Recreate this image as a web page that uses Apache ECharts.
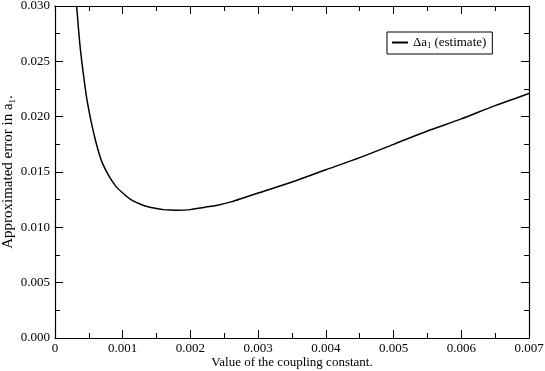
<!DOCTYPE html>
<html>
<head>
<meta charset="utf-8">
<script src="https://cdn.jsdelivr.net/npm/echarts@6/dist/echarts.min.js"></script>
<style>
  html, body { margin: 0; padding: 0; background: #fff; }
  #chart { width: 545px; height: 371px; }
</style>
</head>
<body>
<div id="chart"></div>
<script>
// coupling constant values and estimated error
const couplingX = [0.00032, 0.00035, 0.00038, 0.00042, 0.00046, 0.0005, 0.00055, 0.0006, 0.00065, 0.0007,
  0.0008, 0.0009, 0.001, 0.0011, 0.0012, 0.0013, 0.0014, 0.0015, 0.0016, 0.0017,
  0.0018, 0.002, 0.0022, 0.0024, 0.0026, 0.0028, 0.003, 0.0035, 0.004, 0.0045,
  0.005, 0.0055, 0.006, 0.0065, 0.007];
const errorY = [0.0300, 0.0277, 0.0258, 0.0238, 0.0220, 0.0206, 0.0191, 0.0178, 0.0167, 0.0158,
  0.0146, 0.0137, 0.0131, 0.0126, 0.01225, 0.0120, 0.01182, 0.0117, 0.0116, 0.01156,
  0.01155, 0.0116, 0.0118, 0.0120, 0.0123, 0.0127, 0.0131, 0.0141, 0.0152, 0.0163,
  0.0175, 0.0187, 0.0198, 0.0210, 0.0221];
const xTicks = ['0', '0.001', '0.002', '0.003', '0.004', '0.005', '0.006', '0.007'];
const yTicks = ['0.000', '0.005', '0.010', '0.015', '0.020', '0.025', '0.030'];

const font = '"Liberation Serif", "DejaVu Serif", serif';
const axisLine = { show: true, onZero: false, lineStyle: { color: '#000', width: 1.2 } };
const legendRich = {
  a: { fontFamily: font, fontSize: 13, color: '#000' },
  s: { fontFamily: font, fontSize: 8, color: '#000', padding: [7, 0, 0, 0] },
};
const nameRich = {
  a: { fontFamily: font, fontSize: 15, color: '#000' },
  s: { fontFamily: font, fontSize: 9, color: '#000', padding: [8, 0, 0, 0] },
};

const chart = echarts.init(document.getElementById('chart'));

const baseX = {
  type: 'value', min: 0, max: 0.007, interval: 0.001,
  axisLine: axisLine,
  axisTick: { inside: true, length: 8, lineStyle: { color: '#000' } },
  minorTick: { show: true, splitNumber: 2, length: 5, lineStyle: { color: '#000' } },
  splitLine: { show: false },
};
const baseY = {
  type: 'value', min: 0, max: 0.03, interval: 0.005,
  axisLine: axisLine,
  axisTick: { inside: true, length: 8, lineStyle: { color: '#000' } },
  minorTick: { show: true, splitNumber: 2, length: 5, lineStyle: { color: '#000' } },
  splitLine: { show: false },
};

chart.setOption({
  animation: false,
  backgroundColor: '#fff',
  grid: { left: 55, right: 16, top: 6, bottom: 33, containLabel: false, outerBoundsMode: 'none' },
  legend: {
    left: 387, top: 32,
    padding: [4, 6, 4, 5],
    itemGap: 5,
    itemWidth: 16, itemHeight: 2,
    borderColor: '#000', borderWidth: 1,
    backgroundColor: '#fff',
    icon: 'rect',
    data: ['est'],
    formatter: () => '{a|Δa}{s|1}{a| (estimate)}',
    textStyle: { rich: legendRich },
  },
  xAxis: [
    Object.assign({}, baseX, {
      position: 'bottom',
      axisLabel: {
        fontFamily: font, fontSize: 13, color: '#000', margin: 4,
        formatter: (v) => xTicks[Math.round(v / 0.001)],
      },
      name: 'Value of the coupling constant.',
      nameLocation: 'middle', nameGap: 18, nameMoveOverlap: false,
      nameTextStyle: { fontFamily: font, fontSize: 13, color: '#000' },
    }),
    Object.assign({}, baseX, { position: 'top', axisLabel: { show: false } }),
  ],
  yAxis: [
    Object.assign({}, baseY, {
      position: 'left',
      axisLabel: {
        fontFamily: font, fontSize: 13, color: '#000', margin: 5,
        formatter: (v) => yTicks[Math.round(v / 0.005)],
      },
      name: '{a|Approximated error in a}{s|1}{a|.}',
      nameLocation: 'middle', nameGap: 38, nameMoveOverlap: false,
      nameTextStyle: { rich: nameRich },
    }),
    Object.assign({}, baseY, { position: 'right', axisLabel: { show: false } }),
  ],
  series: [{
    name: 'est',
    type: 'line',
    data: couplingX.map((x, i) => [x, errorY[i]]),
    smooth: 0.25,
    symbol: 'none',
    clip: true,
    lineStyle: { color: '#000', width: 1.5 },
    itemStyle: { color: '#000' },
  }],
});
</script>
</body>
</html>
